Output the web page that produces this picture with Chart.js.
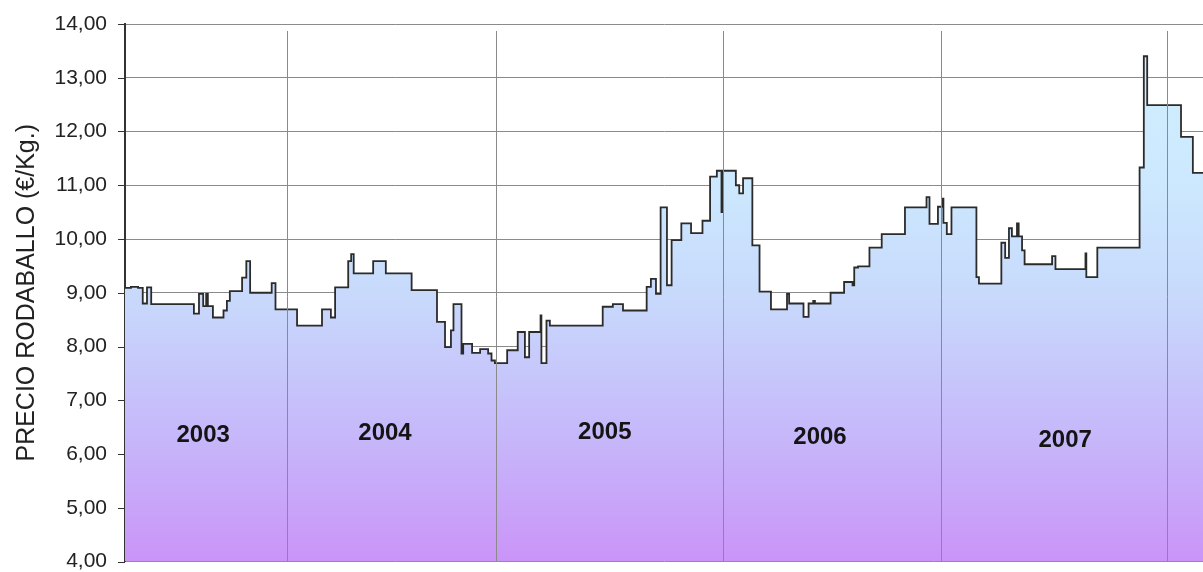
<!DOCTYPE html>
<html>
<head>
<meta charset="utf-8">
<title>Precio rodaballo</title>
<script src="https://cdn.jsdelivr.net/npm/chart.js@4/dist/chart.umd.min.js"></script>
<style>
  html, body { margin: 0; padding: 0; background: #fff; overflow: hidden; }
  canvas { display: block; }
</style>
</head>
<body>
<canvas id="precioChart" width="1203" height="572"></canvas>
<script>
// semana (desde el inicio de la serie) en la que cambia el precio
const semanas = [
  0, 1.4, 3.1, 4.2, 5.2, 6.2, 16.3, 17.5, 18.5, 19.2, 19.6, 20.8, 23.3, 24.1, 24.8,
  27.7, 28.7, 29.6, 34.7, 35.6, 40.7, 46.6, 48.7, 49.7, 52.8, 53.5, 54.1, 58.7, 61.7,
  67.8, 73.8, 75.7, 77.1, 77.7, 79.6, 80.0, 82.1, 84.0, 85.9, 86.7, 87.5, 90.4, 92.9,
  94.6, 95.6, 98.3, 98.5, 99.7, 100.5, 113.0, 115.4, 117.8, 123.4, 124.4, 125.6, 126.7,
  128.2, 129.3, 131.6, 133.9, 136.6, 138.4, 140.0, 141.1, 141.3, 144.5, 145.3, 146.2,
  148.4, 150.1, 152.8, 156.6, 157.1, 160.5, 161.7, 162.8, 163.2, 166.9, 170.1, 172.1,
  172.5, 173.4, 176.1, 179.0, 184.5, 189.6, 190.3, 192.3, 193.3, 193.6, 194.4, 195.5,
  201.4, 202.0, 207.3, 208.2, 209.1, 209.8, 211.0, 211.4, 212.2, 212.8, 219.3, 220.1,
  227.2, 227.4, 230.0, 240.0, 241.0, 241.8, 249.8, 252.6, 255.0
];
// precio en €/Kg
const precios = [
  9.09, 9.11, 9.09, 8.80, 9.10, 8.79, 8.61, 8.98, 8.75, 8.98, 8.75, 8.54, 8.67, 8.85, 9.03,
  9.28, 9.59, 9.00, 9.18, 8.69, 8.39, 8.69, 8.54, 9.10, 9.59, 9.72, 9.36, 9.59, 9.36,
  9.05, 8.46, 7.99, 8.30, 8.79, 7.87, 8.05, 7.88, 7.95, 7.87, 7.74, 7.69, 7.93, 8.27,
  7.80, 8.27, 8.58, 7.69, 8.48, 8.39, 8.74, 8.79, 8.67, 9.11, 9.26, 8.98, 10.59,
  9.14, 9.98, 10.29, 10.11, 10.34, 11.16, 11.27, 10.50, 11.27, 11.00, 10.85, 11.13,
  9.88, 9.02, 8.69, 8.98, 8.80, 8.55, 8.80, 8.85, 8.80, 9.00, 9.20, 9.14,
  9.47, 9.49, 9.84, 10.09, 10.59, 10.78, 10.28, 10.60, 10.75, 10.30, 10.09, 10.59,
  9.29, 9.17, 9.93, 9.65, 10.20, 10.05, 10.29, 10.05, 9.79, 9.53, 9.68, 9.44,
  9.73, 9.29, 9.84, 11.33, 13.40, 12.49, 11.90, 11.23, 11.23
];

// inicio de cada año y rótulos
const iniciosAnio = [38.3, 87.8, 141.5, 193.0, 246.5];
const anios = ['2003', '2004', '2005', '2006', '2007'];
const aniosX = [18.5, 61.5, 113.5, 164.4, 222.4];
const aniosY = [6.35, 6.38, 6.40, 6.31, 6.25];

const ejeYTicks = [4, 5, 6, 7, 8, 9, 10, 11, 12, 13, 14];

const puntos = semanas.map((s, i) => ({ x: s, y: precios[i] }));

function degradado(context) {
  const { ctx, chartArea } = context.chart;
  if (!chartArea) return '#c8d8fc';
  const g = ctx.createLinearGradient(0, chartArea.top, 0, chartArea.bottom);
  g.addColorStop(0, 'rgb(210,240,255)');
  g.addColorStop(0.3, 'rgb(204,232,254)');
  g.addColorStop(0.5, 'rgb(200,218,252)');
  g.addColorStop(0.75, 'rgb(198,186,250)');
  g.addColorStop(1, 'rgb(202,148,248)');
  return g;
}

// marcas cortas del eje Y (el hueco entre marca y rótulo lo da tickLength)
const marcasY = {
  id: 'marcasY',
  afterDraw(chart) {
    const { ctx, chartArea, scales } = chart;
    ctx.save();
    ctx.strokeStyle = '#333';
    ctx.lineWidth = 1;
    ejeYTicks.forEach(v => {
      const y = Math.round(scales.y.getPixelForValue(v)) + 0.5;
      ctx.beginPath();
      ctx.moveTo(chartArea.left - 7, y);
      ctx.lineTo(chartArea.left, y);
      ctx.stroke();
    });
    ctx.restore();
  }
};

// líneas de separación de años (encima del relleno) y rótulos
const separadores = {
  id: 'separadores',
  afterDatasetsDraw(chart) {
    const { ctx, chartArea, scales } = chart;
    ctx.save();
    ctx.strokeStyle = '#8a8a8a';
    ctx.lineWidth = 1;
    iniciosAnio.forEach(v => {
      const x = Math.round(scales.x.getPixelForValue(v)) + 0.5;
      ctx.beginPath();
      ctx.moveTo(x, chartArea.top + 7);
      ctx.lineTo(x, chartArea.bottom);
      ctx.stroke();
    });
    ctx.fillStyle = '#141414';
    ctx.font = 'bold 24px "Liberation Sans", Arial, sans-serif';
    ctx.textAlign = 'center';
    ctx.textBaseline = 'middle';
    anios.forEach((t, i) => {
      ctx.fillText(t, scales.x.getPixelForValue(aniosX[i]), scales.y.getPixelForValue(aniosY[i]));
    });
    ctx.restore();
  }
};

const ctx = document.getElementById('precioChart');
new Chart(ctx, {
  type: 'line',
  data: {
    datasets: [{
      label: 'Precio rodaballo',
      data: puntos,
      stepped: true,
      borderColor: '#2b2b2b',
      borderWidth: 1.8,
      pointRadius: 0,
      fill: 'start',
      backgroundColor: degradado
    }]
  },
  options: {
    responsive: false,
    animation: false,
    devicePixelRatio: 1,
    layout: { padding: { top: 24, right: 0, bottom: 0, left: 0 } },
    plugins: { legend: { display: false }, tooltip: { enabled: false } },
    scales: {
      x: {
        type: 'linear',
        display: false,
        min: 0,
        max: 255
      },
      y: {
        min: 4,
        max: 14,
        afterFit(scale) { scale.width = 125; },
        afterBuildTicks(scale) { scale.ticks = ejeYTicks.map(v => ({ value: v })); },
        ticks: {
          padding: 0,
          color: '#222',
          font: { family: '"Liberation Sans", Arial, sans-serif', size: 21, lineHeight: 1 },
          callback: v => Number(v).toFixed(2).replace('.', ',')
        },
        grid: {
          color: '#8a8a8a',
          lineWidth: 1,
          tickLength: 18,
          tickColor: 'rgba(0,0,0,0)'
        },
        border: { color: '#333', width: 2 },
        title: {
          display: true,
          text: 'PRECIO RODABALLO (€/Kg.)',
          color: '#222',
          font: { family: '"Liberation Sans", Arial, sans-serif', size: 25 },
          padding: { top: 12, bottom: 0 }
        }
      }
    }
  },
  plugins: [separadores, marcasY]
});
</script>
</body>
</html>
